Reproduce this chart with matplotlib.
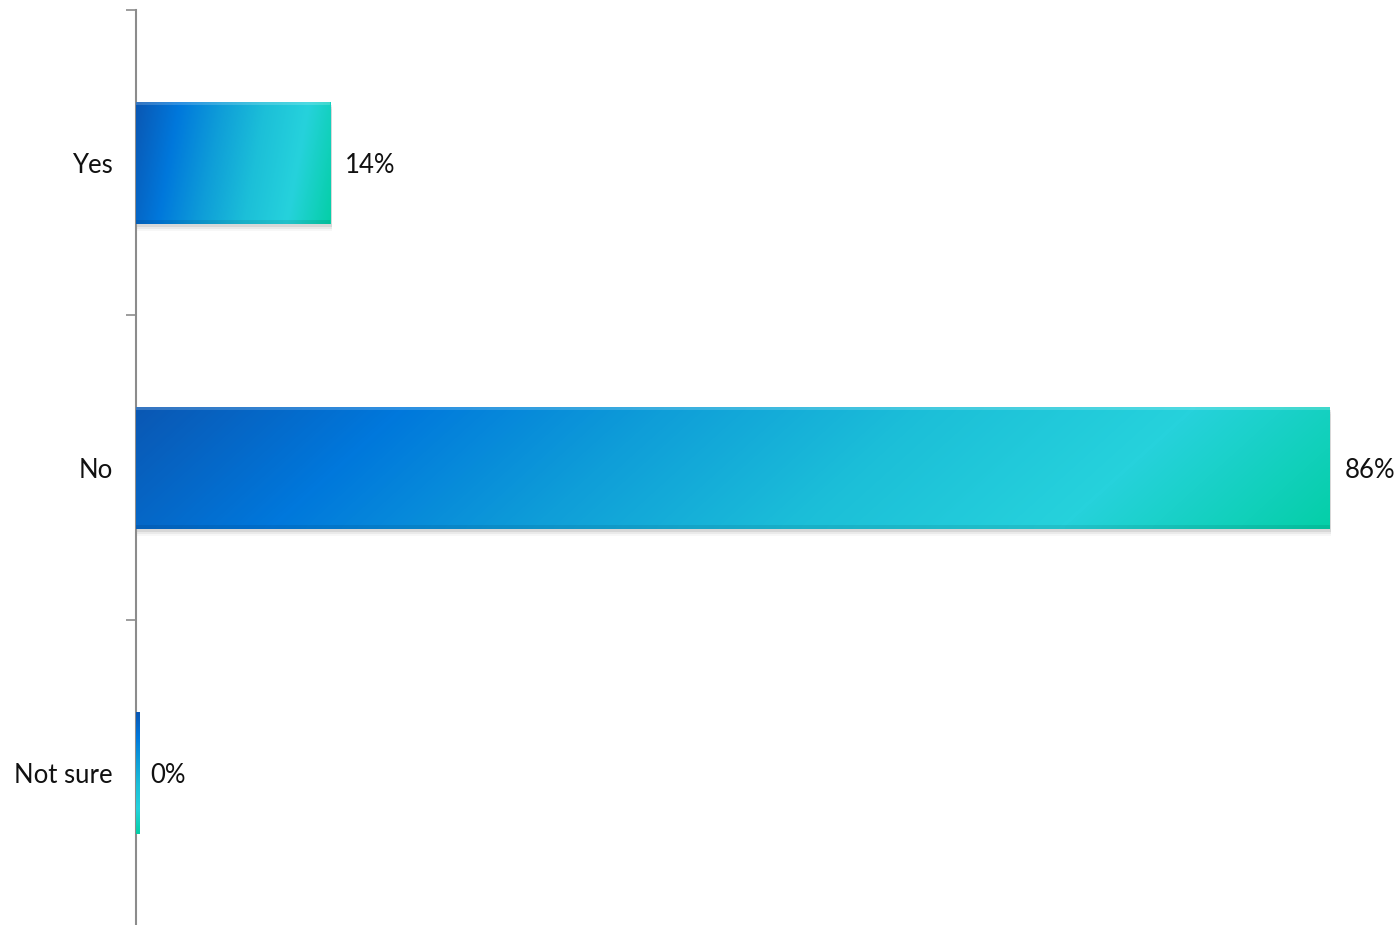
import numpy as np
import matplotlib.pyplot as plt
from matplotlib.colors import LinearSegmentedColormap
from matplotlib.patches import Rectangle

categories = ['Yes', 'No', 'Not sure']
values = [14, 86, 0]
value_labels = ['14%', '86%', '0%']

plt.rcParams['font.family'] = ['Lato', 'DejaVu Sans']

# blue -> cyan -> teal fill along each bar
grad = LinearSegmentedColormap.from_list(
    'bar_grad', ['#0a58b4', '#0078dc', '#0f9ed8', '#1cbfd8', '#26d2dc', '#05cfa8'])

fig = plt.figure(figsize=(13.97, 9.25), dpi=100)
ax = fig.add_axes([136 / 1397, 0, 1 - 136 / 1397, 915 / 925])

ypos = np.arange(len(categories))
bars = ax.barh(ypos, values, height=0.4, color='none', zorder=3)

xmax = 90.85
ax.set_xlim(0, xmax)
ax.set_ylim(len(categories) - 0.5, -0.5)

for b, v in zip(bars, values):
    x0, y0 = b.get_x(), b.get_y()
    w, h = b.get_width(), b.get_height()
    if w <= 0:
        # zero value: just a thin gradient sliver on the axis
        w = 0.22
        g = np.linspace(0, 1, 64).reshape(-1, 1)
        ax.imshow(g, cmap=grad, aspect='auto', extent=(x0, x0 + w, y0 + h, y0),
                  zorder=3, interpolation='bicubic')
        continue
    # soft drop shadow under the bar
    for k, a in enumerate([0.10, 0.07, 0.04]):
        off = 0.010 + k * 0.007
        ax.add_patch(Rectangle((x0 + 0.1, y0 + off), w, h, facecolor='#404040',
                               edgecolor='none', alpha=a, zorder=2))
    nx = 256
    xs = np.linspace(0, 1, nx)
    ys = np.linspace(0, 1, 32).reshape(-1, 1)
    # mostly horizontal, with a slight diagonal tilt
    g = np.clip(0.9 * xs + 0.1 * ys, 0, 1)
    im = ax.imshow(g, cmap=grad, aspect='auto', extent=(x0, x0 + w, y0 + h, y0),
                   zorder=3, interpolation='bicubic')
    im.set_clip_path(b)
    # bevel: lighter top edge, darker bottom edge
    ax.add_patch(Rectangle((x0, y0), w, h * 0.025, facecolor='white',
                           edgecolor='none', alpha=0.18, zorder=4))
    ax.add_patch(Rectangle((x0, y0 + h * 0.975), w, h * 0.025, facecolor='black',
                           edgecolor='none', alpha=0.08, zorder=4))

for b, lab in zip(bars, value_labels):
    ax.annotate(lab, (b.get_width(), b.get_y() + b.get_height() / 2),
                xytext=(10.5, -2.5), textcoords='offset points',
                ha='left', va='center', fontsize=18.5, color='#111111')

ax.set_yticks(ypos)
ax.set_yticklabels(categories, fontsize=18.5, color='#111111')
ax.tick_params(axis='y', which='major', length=0, pad=17)
ax.set_yticks(np.arange(-0.5, len(categories) - 1), minor=True)
ax.tick_params(axis='y', which='minor', length=7, width=1.2, color='#8c8c8c')
ax.set_xticks([])

for s in ['top', 'right', 'bottom']:
    ax.spines[s].set_visible(False)
ax.spines['left'].set_color('#8c8c8c')
ax.spines['left'].set_linewidth(1.5)

fig.savefig('out.png', dpi=100)
